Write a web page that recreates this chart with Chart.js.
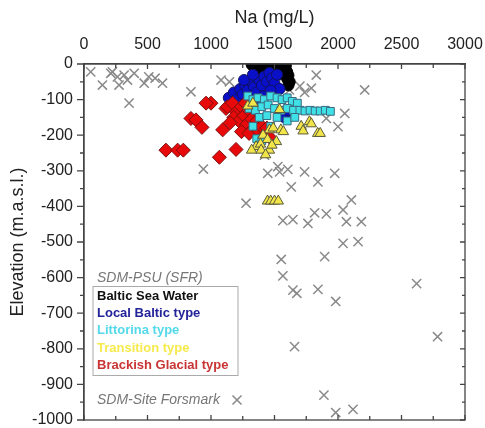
<!DOCTYPE html>
<html lang="en">
<head>
    <meta charset="UTF-8">
    <title>Na vs Elevation</title>
    <script src="https://cdn.jsdelivr.net/npm/chart.js"></script>
    <style>
        body {
            margin: 0;
            background-color: #ffffff;
        }
        #naChart {
            display: block;
        }
    </style>
</head>
<body>
    <canvas id="naChart" width="485" height="428"></canvas>

    <script>
        // Na (mg/L), elevation (m.a.s.l.) pairs per water type
        const balticSea = [
            [1320, -2], [1360, -2], [1400, -3], [1440, -2], [1480, -3], [1520, -2], [1560, -3], [1590, -5],
            [1340, -10], [1380, -12], [1420, -8], [1460, -10], [1500, -9], [1540, -12], [1580, -15],
            [1600, -22], [1610, -32], [1600, -42], [1620, -50], [1610, -60], [1560, -25], [1400, -20],
            [1450, -18], [1500, -20], [1530, -30]
        ];
        const localBaltic = [
            [1140, -95], [1180, -80], [1200, -100], [1230, -70], [1250, -85], [1270, -60], [1290, -75],
            [1300, -95], [1320, -50], [1340, -65], [1360, -80], [1380, -45], [1400, -60], [1420, -35],
            [1440, -50], [1460, -25], [1480, -40], [1500, -55], [1520, -30], [1540, -70], [1360, -100],
            [1420, -90], [1470, -75], [1260, -45], [1330, -30], [1560, -140], [1580, -150], [1610, -130],
            [1400, -110]
        ];
        const littorina = [
            [1290, -90], [1330, -100], [1370, -95], [1420, -100], [1470, -90], [1520, -95], [1560, -100],
            [1600, -95], [1640, -105], [1680, -110], [1300, -125], [1350, -130], [1400, -120], [1450, -115],
            [1500, -125], [1550, -130], [1600, -125], [1650, -130], [1700, -130], [1740, -132], [1780, -130],
            [1820, -132], [1860, -132], [1900, -130], [1940, -133], [1380, -150], [1440, -145], [1520, -150],
            [1600, -160], [1660, -150], [1360, -210], [1400, -215], [1330, -175], [1470, -175]
        ];
        const transition = [
            [1290, -118], [1330, -110], [1540, -128], [1460, -185], [1490, -180], [1550, -185], [1570, -190],
            [1710, -175], [1725, -188], [1775, -162], [1790, -168], [1840, -195], [1860, -195], [1410, -200],
            [1445, -212], [1515, -218], [1355, -232], [1390, -225], [1320, -242], [1395, -242], [1460, -242],
            [1480, -228], [1430, -255], [1445, -385], [1470, -385], [1500, -385], [1530, -385]
        ];
        const brackishGlacial = [
            [1000, -110], [961, -110], [842, -153], [882, -157], [929, -178], [1092, -185], [1197, -240],
            [1066, -262], [645, -242], [737, -242], [782, -242], [1118, -125], [1130, -120], [1170, -110],
            [1200, -135], [1240, -120], [1180, -150], [1220, -160], [1260, -145], [1280, -170], [1300, -130],
            [1320, -155], [1340, -180], [1360, -160], [1240, -190], [1300, -195], [1380, -190], [1400, -175],
            [1420, -200], [1150, -165], [1270, -110], [1340, -125], [1440, -180], [1460, -205]
        ];
        const forsmark = [
            [53, -22], [145, -59], [211, -26], [224, -22], [263, -36], [276, -59], [316, -31], [342, -45],
            [395, -26], [355, -110], [474, -54], [510, -36], [560, -40], [618, -54], [842, -78], [1079, -45],
            [1145, -50], [1618, -73], [1700, -62], [1737, -80], [1790, -68], [1829, -31], [2210, -73],
            [2053, -139], [2000, -176], [1908, -153], [940, -295], [1276, -391], [1421, -256], [1447, -307],
            [1526, -288], [1540, -303], [1605, -296], [1737, -303], [1974, -307], [1842, -331], [1632, -345],
            [2105, -382], [1816, -418], [1908, -421], [2040, -410], [1566, -440], [1645, -437], [1763, -448],
            [2066, -443], [2184, -443], [2040, -504], [2158, -499], [1553, -549], [1895, -541], [1566, -595],
            [1645, -635], [1676, -644], [1842, -633], [1982, -667], [2619, -617], [2784, -766], [1658, -794],
            [1889, -930], [1982, -979], [2118, -970]
        ];

        const naTicks = { min: 0, max: 3000, step: 500 };
        const elevTicks = { min: -1000, max: 0, step: 100 };

        const FONT = "'Liberation Sans', Arial, sans-serif";

        const toPoints = arr => arr.map(p => ({ x: p[0], y: p[1] }));

        // frame box plus inward/minor tick marks
        const frameTicks = {
            id: 'frameTicks',
            afterDatasetsDraw(chart) {
                const { ctx, chartArea: a, scales: { x, y } } = chart;
                ctx.save();
                ctx.strokeStyle = '#444';
                ctx.lineWidth = 1.3;
                ctx.strokeRect(a.left, a.top, a.right - a.left, a.bottom - a.top);
                ctx.beginPath();
                for (let v = naTicks.min; v <= naTicks.max; v += naTicks.step / 2) {
                    const px = x.getPixelForValue(v);
                    const len = v % naTicks.step === 0 ? 5 : 4;
                    ctx.moveTo(px, a.top); ctx.lineTo(px, a.top + len);
                    ctx.moveTo(px, a.bottom); ctx.lineTo(px, a.bottom - len);
                }
                for (let v = elevTicks.min; v <= elevTicks.max; v += elevTicks.step / 2) {
                    const py = y.getPixelForValue(v);
                    const major = v % elevTicks.step === 0;
                    ctx.moveTo(a.left, py); ctx.lineTo(a.left - (major ? 7 : 4), py);
                    ctx.moveTo(a.right, py); ctx.lineTo(a.right - (major ? 5 : 3), py);
                }
                ctx.stroke();
                ctx.restore();
            }
        };

        // text-only legend inside the plot
        const textLegend = {
            id: 'textLegend',
            afterDraw(chart) {
                const { ctx, chartArea: a } = chart;
                const left = a.left + 9;
                ctx.save();
                ctx.textBaseline = 'middle';
                ctx.textAlign = 'left';
                ctx.font = 'italic 14px ' + FONT;
                ctx.fillStyle = '#777';
                ctx.fillText('SDM-PSU (SFR)', left + 4, 278);

                ctx.strokeStyle = '#aaa';
                ctx.lineWidth = 1;
                ctx.strokeRect(left, 286.5, 145, 89);

                const items = [
                    ['Baltic Sea Water', '#111111'],
                    ['Local Baltic type', '#23239a'],
                    ['Littorina type', '#55d9ea'],
                    ['Transition type', '#f6ea4c'],
                    ['Brackish Glacial type', '#c93434']
                ];
                ctx.font = 'bold 13px ' + FONT;
                items.forEach((it, i) => {
                    ctx.fillStyle = it[1];
                    ctx.fillText(it[0], left + 4, 296 + i * 17.4);
                });

                ctx.font = 'italic 14px ' + FONT;
                ctx.fillStyle = '#777';
                ctx.fillText('SDM-Site Forsmark', left + 4, 400);
                const mx = 237, my = 400, r = 4.5;
                ctx.strokeStyle = '#888';
                ctx.lineWidth = 1.5;
                ctx.beginPath();
                ctx.moveTo(mx - r, my - r); ctx.lineTo(mx + r, my + r);
                ctx.moveTo(mx + r, my - r); ctx.lineTo(mx - r, my + r);
                ctx.stroke();
                ctx.restore();
            }
        };

        const ctx = document.getElementById('naChart').getContext('2d');

        new Chart(ctx, {
            type: 'scatter',
            data: {
                datasets: [
                    {
                        label: 'Transition type',
                        data: toPoints(transition),
                        pointStyle: 'triangle',
                        radius: 6,
                        backgroundColor: '#f2e54a',
                        borderColor: '#5a5a3a',
                        borderWidth: 1
                    },
                    {
                        label: 'Littorina type',
                        data: toPoints(littorina),
                        pointStyle: 'rect',
                        radius: 5.5,
                        backgroundColor: '#3fe0e6',
                        borderColor: '#3a6a80',
                        borderWidth: 1
                    },
                    {
                        label: 'Brackish Glacial type',
                        data: toPoints(brackishGlacial),
                        pointStyle: 'rectRot',
                        radius: 7,
                        backgroundColor: '#e80a0a',
                        borderColor: '#7a1010',
                        borderWidth: 1
                    },
                    {
                        label: 'Local Baltic type',
                        data: toPoints(localBaltic),
                        pointStyle: 'circle',
                        radius: 5.5,
                        backgroundColor: '#0a10c8',
                        borderColor: '#101060',
                        borderWidth: 1
                    },
                    {
                        label: 'Baltic Sea Water',
                        data: toPoints(balticSea),
                        pointStyle: 'circle',
                        radius: 5.5,
                        backgroundColor: '#000000',
                        borderColor: '#000000',
                        borderWidth: 1
                    },
                    {
                        label: 'SDM-Site Forsmark',
                        data: toPoints(forsmark),
                        pointStyle: 'crossRot',
                        radius: 6.5,
                        backgroundColor: '#888',
                        borderColor: '#8a8a8a',
                        borderWidth: 1.5
                    }
                ]
            },
            options: {
                responsive: false,
                animation: false,
                layout: {
                    padding: { left: 0, right: 20, top: 0, bottom: 8 }
                },
                plugins: {
                    legend: { display: false },
                    tooltip: { enabled: false }
                },
                scales: {
                    x: {
                        type: 'linear',
                        position: 'top',
                        min: naTicks.min,
                        max: naTicks.max,
                        afterFit: scale => {
                            scale.height = 64;
                            scale.paddingLeft = 0;
                            scale.paddingRight = 0;
                        },
                        ticks: {
                            stepSize: naTicks.step,
                            color: '#222',
                            padding: 10,
                            font: { family: FONT, size: 16 },
                            callback: v => String(v)
                        },
                        grid: { display: false, drawTicks: false },
                        border: { display: true, color: '#444', width: 1.3 },
                        title: {
                            display: true,
                            text: 'Na (mg/L)',
                            color: '#222',
                            padding: { top: 7, bottom: 0 },
                            font: { family: FONT, size: 18 }
                        }
                    },
                    y: {
                        type: 'linear',
                        min: elevTicks.min,
                        max: elevTicks.max,
                        afterFit: scale => {
                            scale.width = 84;
                            scale.paddingTop = 0;
                            scale.paddingBottom = 0;
                        },
                        ticks: {
                            stepSize: elevTicks.step,
                            color: '#222',
                            padding: 3,
                            font: { family: FONT, size: 16 },
                            callback: v => String(v)
                        },
                        grid: { display: false, drawTicks: true, tickLength: 8 },
                        border: { display: true, color: '#444', width: 1.3 },
                        title: {
                            display: true,
                            text: 'Elevation (m.a.s.l.)',
                            color: '#222',
                            padding: { top: 7, bottom: 0 },
                            font: { family: FONT, size: 18 }
                        }
                    }
                }
            },
            plugins: [frameTicks, textLegend]
        });
    </script>
</body>
</html>
